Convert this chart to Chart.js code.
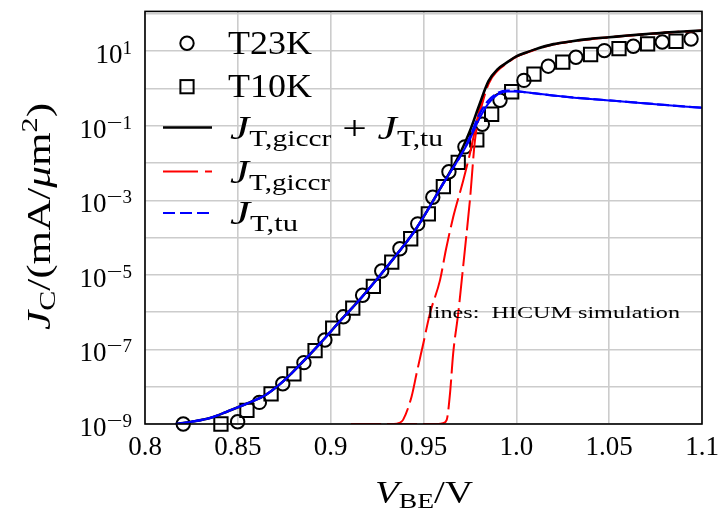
<!DOCTYPE html>
<html>
<head>
<meta charset="utf-8">
<script src="https://cdn.jsdelivr.net/npm/chart.js@4.4.1/dist/chart.umd.min.js"></script>
<style>
  html, body { margin: 0; padding: 0; background: #fff; }
  #wrap { width: 718px; height: 512px; }
</style>
</head>
<body>
<div id="wrap"><canvas id="jc-chart" width="718" height="512"></canvas></div>
<script>
// measured J_C (mA/um^2) vs V_BE (V)
const vT23K = [0.8206, 0.8499, 0.8616, 0.8742, 0.8856, 0.8969, 0.9068, 0.9172, 0.9275, 0.9373, 0.9469, 0.9550,
    0.9637, 0.9723, 0.9817, 0.9912, 1.0041, 1.0172, 1.0321, 1.0474, 1.0630, 1.0786, 1.0941];
const jT23K = [1.0e-9, 1.15e-9, 3.80e-9, 1.20e-8, 4.43e-8, 1.79e-7, 7.50e-7, 2.84e-6, 1.27e-5, 5.04e-5, 2.34e-4, 1.21e-3,
    5.85e-3, 2.72e-2, 0.110, 0.482, 1.65, 3.97, 6.92, 10.4, 13.6, 17.7, 21.3];

const vT10K = [0.8409, 0.8549, 0.8679, 0.8802, 0.8916, 0.9011, 0.9119, 0.9230, 0.9329, 0.9431, 0.9526, 0.9607,
    0.9687, 0.9787, 0.9867, 0.9975, 1.0095, 1.0250, 1.0400, 1.0553, 1.0707, 1.0860];
const jT10K = [1.0e-9, 2.31e-9, 6.46e-9, 2.21e-8, 9.25e-8, 3.74e-7, 1.28e-6, 4.95e-6, 2.21e-5, 9.31e-5, 4.34e-4, 2.33e-3,
    1.04e-2, 4.19e-2, 0.204, 0.818, 2.43, 5.08, 8.17, 11.8, 15.7, 18.5];

// HICUM simulation lines
const vSim = [0.8165, 0.825, 0.835, 0.845, 0.855, 0.865, 0.875, 0.885, 0.895, 0.905, 0.915, 0.925, 0.935, 0.945,
    0.955, 0.960, 0.965, 0.970, 0.975, 0.980, 0.985, 0.990, 0.995, 1.000, 1.005, 1.010, 1.020, 1.030, 1.040,
    1.050, 1.060, 1.070, 1.080, 1.090, 1.100];
const jTu23 = [1.0e-9, 1.15e-9, 1.45e-9, 2.24e-9, 3.55e-9, 6.03e-9, 1.48e-8, 4.68e-8, 1.58e-7, 5.75e-7, 2.0e-6, 7.76e-6,
    3.24e-5, 1.45e-4, 9.33e-4, 2.51e-3, 6.31e-3, 1.58e-2, 5.01e-2, 0.200, 0.479, 0.759, 0.881, 0.851, 0.794, 0.741,
    0.646, 0.575, 0.525, 0.479, 0.437, 0.398, 0.363, 0.331, 0.305];
const jTu10 = [1.0e-9, 1.15e-9, 1.45e-9, 2.24e-9, 3.55e-9, 6.03e-9, 1.48e-8, 4.68e-8, 1.58e-7, 5.75e-7, 2.0e-6, 7.76e-6,
    3.24e-5, 1.45e-4, 9.33e-4, 2.51e-3, 6.31e-3, 1.58e-2, 4.37e-2, 0.151, 0.398, 0.692, 0.832, 0.832, 0.794, 0.741,
    0.646, 0.575, 0.525, 0.479, 0.437, 0.398, 0.363, 0.331, 0.305];
const jSum = [1.0e-9, 1.15e-9, 1.45e-9, 2.24e-9, 3.55e-9, 6.03e-9, 1.48e-8, 4.68e-8, 1.58e-7, 5.75e-7, 2.0e-6, 7.76e-6,
    3.24e-5, 1.45e-4, 9.33e-4, 2.51e-3, 6.61e-3, 1.95e-2, 7.24e-2, 0.355, 1.58, 3.31, 5.01, 7.24, 9.12, 11.2,
    15.5, 18.6, 21.4, 23.7, 26.3, 28.8, 31.6, 33.9, 35.7];

const vGiccr23 = [0.911, 0.934, 0.937, 0.939, 0.9436, 0.9463, 0.9499, 0.9535, 0.9589, 0.9621, 0.966, 0.9714, 0.975,
    0.980, 0.985, 0.990, 0.995, 1.000, 1.005, 1.010, 1.020, 1.030, 1.040, 1.050, 1.060, 1.070, 1.080, 1.090, 1.100];
const jGiccr23 = [1.0e-9, 1.0e-9, 1.07e-9, 1.29e-9, 5.50e-9, 2.29e-8, 1.45e-7, 9.33e-7, 7.24e-6, 4.79e-5, 3.55e-4,
    3.39e-3, 1.78e-2, 0.251, 1.51, 3.24, 5.01, 7.24, 9.12, 11.2, 15.5, 18.6, 21.4, 23.7, 26.3, 28.8, 31.6, 33.9, 35.7];
const vGiccr10 = [0.911, 0.958, 0.9605, 0.9625, 0.9643, 0.9660, 0.9687, 0.9706, 0.9723, 0.9750, 0.9777, 0.980, 0.985,
    0.990, 0.995, 1.000, 1.005, 1.010, 1.020, 1.030, 1.040, 1.050, 1.060, 1.070, 1.080, 1.090, 1.100];
const jGiccr10 = [1.0e-9, 1.0e-9, 1.05e-9, 1.29e-9, 6.76e-9, 7.94e-8, 9.33e-7, 7.24e-6, 4.79e-5, 1.0e-3, 3.98e-2, 0.178,
    1.32, 3.02, 4.79, 7.08, 8.9, 11.0, 15.2, 18.3, 21.1, 23.4, 26.0, 28.5, 31.3, 33.6, 35.4];

// axes
const xTickValues = [0.8, 0.85, 0.9, 0.95, 1.0, 1.05, 1.1];
const xTickLabels = ['0.8', '0.85', '0.9', '0.95', '1.0', '1.05', '1.1'];
const yGridExps = [-9, -8, -7, -6, -5, -4, -3, -2, -1, 0, 1, 2];
const yLabelExps = [1, -1, -3, -5, -7, -9];

const serif = '"Liberation Serif", "DejaVu Serif", serif';
const GRID = '#cccccc';

const pts = (xs, ys) => xs.map((x, i) => ({ x: x, y: ys[i] }));

// draws a row of text pieces (sub/superscripts), optionally stretched to a width
function drawMath(ctx, parts, x, y, width, align) {
    let natural = 0;
    const adv = parts.map(p => {
        ctx.font = (p.it ? 'italic ' : '') + p.size + 'px ' + serif;
        const w = ctx.measureText(p.t).width * (p.sx || 1);
        natural += w;
        return w;
    });
    const k = width ? width / natural : 1;
    const total = natural * k;
    let x0 = x;
    if (align === 'right') x0 = x - total;
    else if (align === 'center') x0 = x - total / 2;
    ctx.save();
    ctx.translate(x0, y);
    ctx.scale(k, 1);
    ctx.fillStyle = '#000';
    ctx.textAlign = 'left';
    ctx.textBaseline = 'alphabetic';
    let cx = 0;
    parts.forEach((p, i) => {
        ctx.font = (p.it ? 'italic ' : '') + p.size + 'px ' + serif;
        ctx.save();
        ctx.translate(cx, p.dy || 0);
        ctx.scale(p.sx || 1, 1);
        ctx.fillText(p.t, 0, 0);
        ctx.restore();
        cx += adv[i];
    });
    ctx.restore();
}

const decorations = {
    id: 'decorations',
    afterDraw(chart) {
        const ctx = chart.ctx;
        const a = chart.chartArea;
        const ys = chart.scales.y;

        // frame
        ctx.save();
        ctx.strokeStyle = '#000';
        ctx.lineWidth = 1.6;
        ctx.strokeRect(a.left, a.top, a.right - a.left, a.bottom - a.top);
        ctx.restore();

        // y tick labels 10^n
        yLabelExps.forEach(e => {
            const py = ys.getPixelForValue(Math.pow(10, e));
            const sup = e < 0
                ? [{ t: '\u2212', size: 19, dy: -9, sx: 1.5 }, { t: String(-e), size: 19, dy: -9 }]
                : [{ t: String(e), size: 19, dy: -9 }];
            drawMath(ctx, [{ t: '10', size: 27 }].concat(sup), 132, py + 12, null, 'right');
        });

        // axis titles
        drawMath(ctx, [
            { t: 'V', size: 31, it: true },
            { t: 'BE', size: 22, dy: 5 },
            { t: '/V', size: 31 }
        ], 375, 503, 98, 'left');

        ctx.save();
        ctx.translate(50, 330);
        ctx.rotate(-Math.PI / 2);
        drawMath(ctx, [
            { t: 'J', size: 33, it: true },
            { t: 'C', size: 23, dy: 5 },
            { t: '/(mA/', size: 33 },
            { t: '\u03bc', size: 33, it: true },
            { t: 'm', size: 33 },
            { t: '2', size: 23, dy: -13 },
            { t: ')', size: 33 }
        ], 0, 0, 227, 'left');
        ctx.restore();

        // annotation
        drawMath(ctx, [{ t: 'lines:  HICUM simulation', size: 17 }], 427, 318, 253, 'left');

        // legend
        const rows = [43.3, 86.7, 127.5, 171.5, 213];
        ctx.save();
        ctx.strokeStyle = '#000';
        ctx.lineWidth = 2;
        ctx.beginPath();
        ctx.arc(187, rows[0], 6.7, 0, Math.PI * 2);
        ctx.stroke();
        ctx.strokeRect(187 - 6.6, rows[1] - 6.6, 13.2, 13.2);

        const sample = (y, color, dash, w) => {
            ctx.beginPath();
            ctx.setLineDash(dash);
            ctx.strokeStyle = color;
            ctx.lineWidth = w;
            ctx.moveTo(163, y);
            ctx.lineTo(212, y);
            ctx.stroke();
        };
        sample(rows[2], '#000', [], 2.4);
        sample(rows[3], '#ff0000', [35, 7], 2);
        sample(rows[4], '#0000ff', [12, 5], 2.2);
        ctx.restore();

        drawMath(ctx, [{ t: 'T23K', size: 34 }], 228, 54, 84, 'left');
        drawMath(ctx, [{ t: 'T10K', size: 34 }], 228, 97, 84, 'left');
        drawMath(ctx, [
            { t: 'J', size: 34, it: true }, { t: 'T,giccr', size: 23, dy: 7 },
            { t: ' + ', size: 34 },
            { t: 'J', size: 34, it: true }, { t: 'T,tu', size: 23, dy: 7 }
        ], 230, 139, 213, 'left');
        drawMath(ctx, [
            { t: 'J', size: 34, it: true }, { t: 'T,giccr', size: 23, dy: 7 }
        ], 230, 182.5, 100, 'left');
        drawMath(ctx, [
            { t: 'J', size: 34, it: true }, { t: 'T,tu', size: 23, dy: 7 }
        ], 230, 224, 68, 'left');
    }
};

function lineSet(label, data, color, width, dash, order) {
    return {
        label: label,
        data: data,
        borderColor: color,
        borderWidth: width,
        borderDash: dash,
        pointRadius: 0,
        fill: false,
        cubicInterpolationMode: 'monotone',
        order: order
    };
}

function markerSet(label, data, style, radius) {
    return {
        label: label,
        data: data,
        showLine: false,
        pointStyle: style,
        pointRadius: radius,
        pointBorderWidth: 2,
        pointBorderColor: '#000',
        pointBackgroundColor: 'rgba(0,0,0,0)',
        clip: false,
        order: 10
    };
}

const ctx = document.getElementById('jc-chart').getContext('2d');
new Chart(ctx, {
    type: 'line',
    data: {
        datasets: [
            markerSet('T23K', pts(vT23K, jT23K), 'circle', 6.7),
            markerSet('T10K', pts(vT10K, jT10K), 'rect', 9.4),
            lineSet('J_T,giccr (T23K)', pts(vGiccr23, jGiccr23), '#ff0000', 2, [30, 6], 6),
            lineSet('J_T,giccr (T10K)', pts(vGiccr10, jGiccr10), '#ff0000', 2, [30, 6], 6),
            lineSet('J_T,giccr + J_T,tu', pts(vSim, jSum), '#000000', 2.6, [], 4),
            lineSet('J_T,tu (T10K)', pts(vSim, jTu10), '#0000ff', 2, [], 3),
            lineSet('J_T,tu', pts(vSim, jTu23), '#0000ff', 2.2, [12, 4], 2)
        ]
    },
    options: {
        responsive: false,
        maintainAspectRatio: false,
        animation: false,
        layout: { padding: { top: 10, right: 16, left: 0, bottom: 0 } },
        plugins: {
            legend: { display: false },
            tooltip: { enabled: false }
        },
        scales: {
            x: {
                type: 'linear',
                min: 0.8,
                max: 1.1,
                afterBuildTicks: s => { s.ticks = xTickValues.map(v => ({ value: v })); },
                afterFit: s => { s.height = 88; s.paddingLeft = 0; s.paddingRight = 0; },
                ticks: {
                    autoSkip: false,
                    maxRotation: 0,
                    padding: 8,
                    color: '#000',
                    font: { family: serif, size: 27 },
                    callback: (v, i) => xTickLabels[i]
                },
                grid: { color: GRID, lineWidth: 1.6, drawTicks: false },
                border: { display: false }
            },
            y: {
                type: 'logarithmic',
                min: 1e-9,
                max: 117,
                afterBuildTicks: s => { s.ticks = yGridExps.map(e => ({ value: Math.pow(10, e) })); },
                afterFit: s => { s.width = 145; },
                ticks: { display: false },
                grid: { color: GRID, lineWidth: 1.6, drawTicks: false },
                border: { display: false }
            }
        }
    },
    plugins: [decorations]
});
</script>
</body>
</html>
